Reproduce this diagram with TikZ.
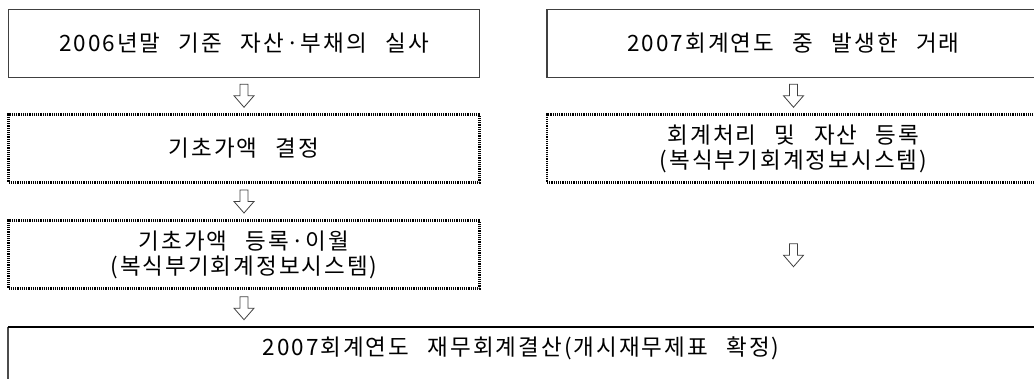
\documentclass[tikz,border=0pt]{standalone}
\usepackage{fontspec}
\setmainfont{Noto Sans CJK KR}[LetterSpace=9, WordSpace=2.6]
\usetikzlibrary{calc}
\tikzset{
  boxbase/.style={minimum width=471pt, minimum height=68pt, inner sep=0pt, align=center,
    font=\fontsize{22.5}{25}\selectfont},
  solidbox/.style={boxbase, draw=black!75, line width=1.2pt},
  dotbox/.style={boxbase, draw=black, line width=2.2pt, dash pattern=on 1.2pt off 1pt},
  arrline/.style={draw=black!75, line width=0.8pt, line join=miter},
  downarr/.pic={\path[arrline] (-4,-11.5) -- (-4,0) -- (-10,0) -- (0,11.5) -- (10,0) -- (4,0) -- (4,-11.5) -- cycle;}
}
\begin{document}
\begin{tikzpicture}[x=1pt,y=-1pt]
\useasboundingbox (0,0) rectangle (1034,378);
% left column
\node[solidbox] (a1) at (244,43.5) {2006년말 기준 자산·부채의 실사};
\node[dotbox] (a2) at (244,148.5) {기초가액 결정};
\node[dotbox] (a3) at (244,254.5) {기초가액 등록·이월\\(복식부기회계정보시스템)};
% right column
\node[solidbox, minimum width=493pt] (b1) at (793.5,43.5) {2007회계연도 중 발생한 거래};
\node[dotbox, minimum width=493pt] (b2) at (793.5,148.5) {회계처리 및 자산 등록\\(복식부기회계정보시스템)};
% final box (extends beyond the page)
\node[boxbase, minimum width=1026pt, minimum height=42pt] (c) at (521,348) {2007회계연도 재무회계결산(개시재무제표 확정)};
\draw[black!70, line width=1.4pt] (c.north west) ++(0,60) -- (c.north west);
\draw[black, line width=1.4pt] (c.north west) -- (c.north east) -- ++(20,0);
% arrows
\pic at ($(a1.south)!0.5!(a2.north)$) {downarr};
\pic at ($(a2.south)!0.5!(a3.north)$) {downarr};
\pic at ($(a3.south)!0.5!(a3.south|-c.north)$) {downarr};
\pic at ($(b1.south)!0.5!(b2.north)$) {downarr};
\pic at ($(b2.south)!0.5!(b2.south|-c.north)$) {downarr};
\end{tikzpicture}
\end{document}
